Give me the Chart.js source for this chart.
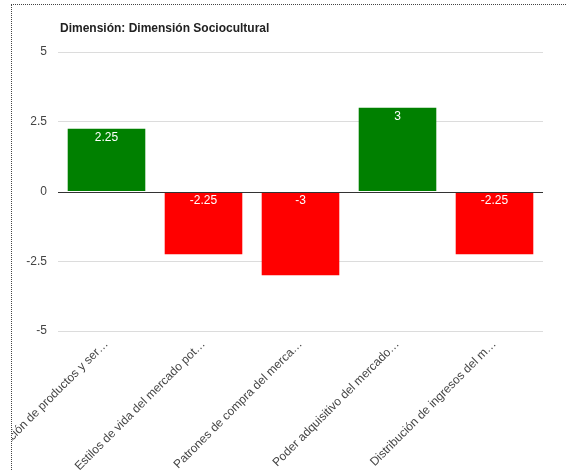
<!DOCTYPE html>
<html>
<head>
<meta charset="utf-8">
<script src="https://cdn.jsdelivr.net/npm/chart.js@4/dist/chart.umd.min.js"></script>
<style>
  html, body { margin: 0; padding: 0; background: #fff; }
  body { width: 566px; height: 470px; position: relative; overflow: hidden; }
  #frame {
    position: absolute; left: 11px; top: 4px; right: 0; bottom: 0;
    border-left: 1px dotted #444; border-top: 1px dotted #444;
  }
  #wrap { position: absolute; left: 12px; top: 5px; width: 554px; height: 465px; }
</style>
</head>
<body>
<div id="frame"></div>
<div id="wrap"><canvas id="c" width="554" height="465"></canvas></div>
<script>
const chartTitle = 'Dimensión: Dimensión Sociocultural';
const categories = [
  'Diversificación de productos y ser…',
  'Estilos de vida del mercado pot…',
  'Patrones de compra del merca…',
  'Poder adquisitivo del mercado…',
  'Distribución de ingresos del m…'
];
const values = [2.25, -2.25, -3, 3, -2.25];
const yTicks = [-5, -2.5, 0, 2.5, 5];

const POS = '#008000';
const NEG = '#ff0000';

// Title text above the plot, aligned with the plot's left edge
const titlePlugin = {
  id: 'leftTitle',
  afterDraw(chart) {
    const ctx = chart.ctx;
    ctx.save();
    ctx.font = 'bold 12px Arial, "Liberation Sans", sans-serif';
    ctx.fillStyle = '#222';
    ctx.textAlign = 'left';
    ctx.textBaseline = 'middle';
    ctx.fillText(chartTitle, chart.chartArea.left + 2, 24);
    ctx.restore();
  }
};

// Dark baseline at zero, drawn over the bars, plus value labels inside each bar
const barExtras = {
  id: 'barExtras',
  afterDatasetsDraw(chart) {
    const ctx = chart.ctx;
    const y0 = Math.round(chart.scales.y.getPixelForValue(0)) + 0.5;
    ctx.save();
    ctx.strokeStyle = '#333';
    ctx.lineWidth = 1;
    ctx.beginPath();
    ctx.moveTo(chart.chartArea.left, y0);
    ctx.lineTo(chart.chartArea.right, y0);
    ctx.stroke();

    ctx.font = '12px Arial, "Liberation Sans", sans-serif';
    ctx.fillStyle = '#fff';
    ctx.textAlign = 'center';
    ctx.textBaseline = 'middle';
    const meta = chart.getDatasetMeta(0);
    meta.data.forEach((bar, i) => {
      const v = values[i];
      const top = v >= 0 ? bar.y : bar.base;
      ctx.fillText(String(v), bar.x, top + 9);
    });
    ctx.restore();
  }
};

new Chart(document.getElementById('c'), {
  type: 'bar',
  data: {
    labels: categories,
    datasets: [{
      data: values,
      backgroundColor: values.map(v => v >= 0 ? POS : NEG),
      borderWidth: 0,
      barPercentage: 0.8,
      categoryPercentage: 1.0
    }]
  },
  options: {
    responsive: false,
    animation: false,
    devicePixelRatio: 1,
    layout: { padding: { top: 47, right: 23, bottom: 0, left: 0 } },
    plugins: {
      legend: { display: false },
      tooltip: { enabled: false },
      title: { display: false }
    },
    scales: {
      x: {
        grid: { display: false, drawTicks: false },
        border: { display: false },
        ticks: {
          autoSkip: false,
          minRotation: 45,
          maxRotation: 45,
          padding: 6,
          color: '#444',
          font: { family: 'Arial, "Liberation Sans", sans-serif', size: 12 }
        },
        afterFit(scale) {
          scale.height = 139;
          scale.paddingLeft = 0;
          scale.paddingRight = 0;
        }
      },
      y: {
        min: -5,
        max: 5,
        afterBuildTicks(scale) { scale.ticks = yTicks.map(v => ({ value: v })); },
        grid: {
          drawTicks: false,
          color: ctx => ctx.tick && ctx.tick.value === 0 ? 'rgba(0,0,0,0)' : '#dcdcdc'
        },
        border: { display: false },
        ticks: {
          padding: 11,
          color: '#444',
          font: { family: 'Arial, "Liberation Sans", sans-serif', size: 12 },
          callback: v => String(v)
        },
        afterFit(scale) { scale.width = 46; }
      }
    }
  },
  plugins: [titlePlugin, barExtras]
});
</script>
</body>
</html>
